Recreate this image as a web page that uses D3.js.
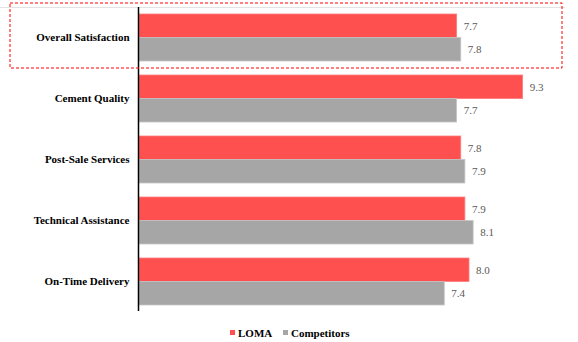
<!DOCTYPE html>
<html><head><meta charset="utf-8">
<script src="https://cdn.jsdelivr.net/npm/d3@7"></script>
<style>html,body{margin:0;padding:0;background:#fff;}svg{display:block;}
svg text{font-family:"Liberation Serif","Times New Roman",serif !important;}</style>
</head><body>
<script>
const categories = ["Overall Satisfaction","Cement Quality","Post-Sale Services","Technical Assistance","On-Time Delivery"];
const loma = [7.7, 9.3, 7.8, 7.9, 8.0];
const competitors = [7.8, 7.7, 7.9, 8.1, 7.4];
const seriesNames = ["LOMA","Competitors"];
const colors = ["#FF5050","#A6A6A6"];

const W = 578, H = 342;
const FONT = "'Liberation Serif','Times New Roman',serif";
const svg = d3.select("body").append("svg").attr("width", W).attr("height", H);

const x = d3.scaleLinear().domain([0, 10]).range([139, 551.5]);
const y0 = d3.scaleBand().domain(categories).range([7, 312]).paddingInner(0.23).paddingOuter(0.115);
const y1 = d3.scaleBand().domain(seriesNames).range([0, y0.bandwidth()]).padding(0);

svg.append("line").attr("x1", 0).attr("x2", 565).attr("y1", 7.5).attr("y2", 7.5)
  .attr("stroke", "#e3e3e3").attr("stroke-width", 1);

const data = categories.map((c, i) => ({cat: c, vals: [loma[i], competitors[i]]}));

const g = svg.selectAll("g.cat").data(data).enter().append("g")
  .attr("transform", d => `translate(0,${y0(d.cat)})`);

g.selectAll("rect").data(d => d.vals.map((v, j) => ({v, s: seriesNames[j], j})))
  .enter().append("rect")
  .attr("x", x(0)).attr("y", d => y1(d.s))
  .attr("width", d => x(d.v) - x(0)).attr("height", y1.bandwidth())
  .attr("fill", d => colors[d.j])
  .attr("stroke", d => d.j === 0 ? "#ff7a7a" : "#c4c4c4").attr("stroke-width", 0.8);

g.selectAll("text.val").data(d => d.vals.map((v, j) => ({v, s: seriesNames[j], j})))
  .enter().append("text")
  .attr("x", d => x(d.v) + 7).attr("y", d => y1(d.s) + y1.bandwidth() / 2)
  .attr("dy", "0.35em")
  .style("font-family", FONT).style("font-size", "11px")
  .attr("fill", "#595959")
  .text(d => d3.format(".1f")(d.v));

const yAxis = d3.axisLeft(y0).tickSize(0).tickPadding(9);
const ax = svg.append("g").attr("transform", `translate(${x(0) - 0.5},0)`).call(yAxis)
  .attr("font-family", FONT);
ax.select(".domain").remove();
ax.selectAll("text").style("font-family", FONT)
  .style("font-size", "11px").style("font-weight", "bold").attr("fill", "#000");
svg.append("line").attr("x1", x(0) - 0.5).attr("x2", x(0) - 0.5).attr("y1", 7).attr("y2", 311)
  .attr("stroke", "#000").attr("stroke-width", 1.5);

svg.append("rect").attr("x", 10).attr("y", 3).attr("width", 552).attr("height", 65)
  .attr("fill", "none").attr("stroke", "#FF0000").attr("stroke-width", 1)
  .attr("stroke-dasharray", "3,2");

const legend = [{name: seriesNames[0], c: colors[0], x: 230}, {name: seriesNames[1], c: colors[1], x: 283}];
const lg = svg.selectAll("g.leg").data(legend).enter().append("g")
  .attr("transform", d => `translate(${d.x},0)`);
lg.append("rect").attr("x", 0).attr("y", 330).attr("width", 5).attr("height", 5).attr("fill", d => d.c);
lg.append("text").attr("x", 8).attr("y", 337)
  .style("font-family", FONT).style("font-size", "11px")
  .style("font-weight", "bold").attr("fill", "#000").text(d => d.name);
</script>
</body></html>
